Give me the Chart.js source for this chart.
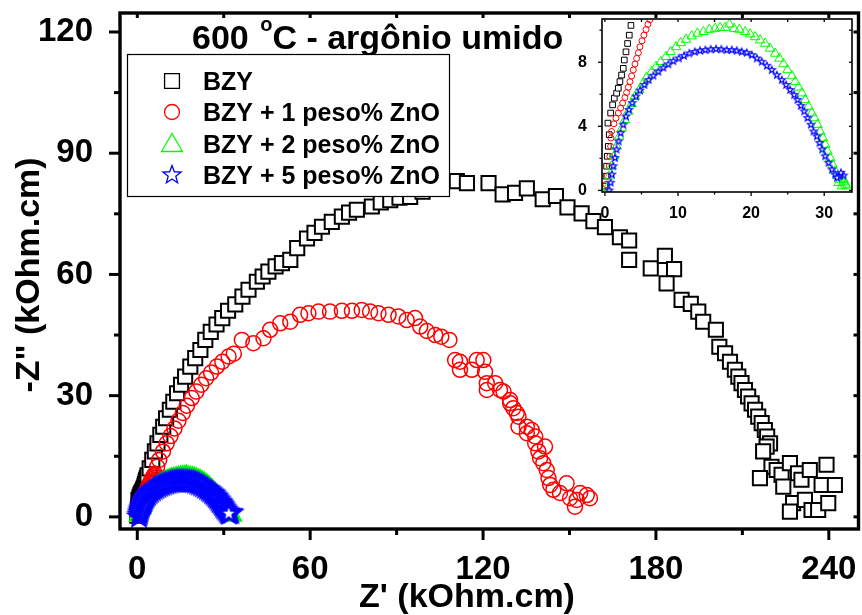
<!DOCTYPE html>
<html lang="pt">
<head>
<meta charset="utf-8">
<title>600 °C - argônio umido</title>
<script src="https://cdn.jsdelivr.net/npm/chart.js@4.4.1/dist/chart.umd.min.js"></script>
<style>
  html, body { margin: 0; padding: 0; background: #fff; }
  #Quadro { position: relative; width: 862px; height: 615px; overflow: hidden; }
  #GraficoPrincipal { position: absolute; left: 0; top: 0; }
  #GraficoDetalhe { position: absolute; left: 570px; top: 10px; }
</style>
</head>
<body>
<div id="Quadro">
  <canvas id="GraficoPrincipal" width="862" height="615"></canvas>
  <canvas id="GraficoDetalhe" width="292" height="210"></canvas>
</div>
<script>
// Series: Z' (kOhm.cm), -Z'' (kOhm.cm)
const Series = ['BZY', 'BZY + 1 peso% ZnO', 'BZY + 2 peso% ZnO', 'BZY + 5 peso% ZnO'];

const PontosBZY = [
  [0,0.27],[0.14,0.89],[0.23,1.51],[0.32,2.13],[0.46,2.75],[0.59,3.48],[0.41,4.2],[0.78,4.83],[1.05,5.34],[1.28,5.76],
  [1.6,6.07],[1.83,6.38],[2.05,6.79],[2.28,7.2],[2.51,7.62],[2.65,8.14],[2.88,8.65],[3.1,9.17],[3.33,9.69],[3.56,10.3],
  [4.3,12.0],[5.2,14.1],[6.1,16.2],[7.0,18.2],[8.0,20.3],[9.0,22.3],[10.0,24.4],[11.3,26.5],[12.5,28.5],[13.8,30.6],
  [15.2,32.7],[16.6,34.7],[18.4,37.2],[20.1,39.3],[21.9,41.3],[23.6,43.8],[25.5,45.8],[27.5,47.6],[29.5,49.2],[31.5,51.0],
  [34.0,52.6],[36.5,54.5],[38.6,56.2],[41.5,58.2],[43.5,59.5],[45.5,60.7],[48.0,62.0],[50.2,62.8],[53.1,63.6],[55.5,66.5],
  [58.9,68.9],[61.5,70.3],[64.1,71.8],[67.5,73.0],[71.0,74.3],[73.5,75.3],[76.2,76.0],[81.4,76.8],[84.5,77.8],[87.8,78.4],
  [91.0,79.0],[94.7,79.2],[99.0,80.5],[104.0,81.8],[110.9,83.1],[114.4,82.6],[121.9,82.6],[126.8,79.8],[131.1,80.2],[135.2,81.3],
  [140.7,78.6],[145.3,79.4],[149.3,76.6],[154.2,75.1],[158.3,73.2],[162.3,71.7],[167.5,69.2],[170.7,68.4],[170.7,63.6],[178.2,61.5],
  [183.1,64.6],[186.3,61.3],[183.7,57.8],[188.9,53.7],[192.1,52.7],[194.7,50.8],[196.4,48.3],[200.8,46.3],[202.0,42.1],[204.0,40.5],
  [205.7,38.4],[207.4,36.4],[208.6,34.7],[209.7,33.1],[210.9,31.4],[212.0,29.8],[213.2,28.1],[214.4,26.5],[215.5,24.8],[216.7,23.2],
  [217.8,21.5],[218.6,19.9],[219.6,18.2],[218.4,17.4],[217.2,16.2],[220.1,12.4],[216.1,9.6],[221.9,11.6],[223.6,10.4],[226.5,13.3],
  [224.2,7.5],[229.3,10.8],[230.5,9.2],[233.4,11.6],[227.6,3.4],[226.5,1.3],[231.7,4.2],[234.0,1.7],[236.3,1.7],[237.5,7.9],
  [239.2,12.9],[239.8,3.4],[242.1,7.9]
];

const PontosZnO1 = [
  [0.14,0.37],[0.32,0.89],[0.59,1.51],[0.68,2.13],[0.78,2.75],[0.82,3.27],[0.91,3.68],[1.23,4.16],[1.51,4.51],[1.83,4.83],
  [2.15,5.14],[2.42,5.45],[2.74,5.8],[2.97,6.11],[3.2,6.44],[3.42,6.79],[3.65,7.14],[3.88,7.52],[4.11,7.89],[4.34,8.24],
  [4.57,8.59],[4.79,8.96],[5.07,9.34],[5.34,9.69],[5.62,10.04],[5.89,10.37],[6.16,10.66],[6.9,12.4],[7.6,14.1],[8.9,16.2],
  [10.2,18.2],[11.5,20.0],[12.9,21.9],[14.3,23.8],[15.8,25.7],[17.2,27.5],[18.9,29.4],[20.5,31.0],[22.2,32.7],[23.9,34.3],
  [25.6,35.7],[27.6,37.2],[29.5,38.4],[31.7,39.7],[33.5,40.4],[36.3,43.8],[40.3,43.0],[43.8,44.2],[46.1,46.3],[49.6,47.9],
  [53.1,48.3],[56.5,50.0],[59.4,50.4],[62.9,50.8],[66.9,50.8],[71.0,51.0],[74.5,51.0],[77.9,51.2],[80.8,50.8],[83.7,50.4],
  [87.2,50.0],[90.6,49.6],[93.5,48.7],[96.4,49.2],[98.2,47.1],[100.5,46.0],[103.4,45.0],[105.5,44.6],[108.3,43.8],[110.3,38.8],
  [112.0,36.4],[112.0,38.4],[116.1,36.4],[117.8,38.8],[120.1,38.8],[120.7,35.9],[121.3,33.1],[121.3,31.4],[124.2,33.1],[125.9,31.4],
  [127.1,31.0],[129.4,28.9],[129.4,28.1],[130.5,26.9],[131.7,25.7],[132.3,24.8],[132.3,22.3],[135.2,22.3],[135.2,20.7],[136.9,21.5],
  [138.1,19.9],[138.1,18.2],[139.2,16.2],[141.5,17.4],[139.8,14.5],[140.9,13.3],[142.1,11.6],[142.7,9.6],[143.3,7.9],[144.4,6.7],
  [146.7,5.9],[149.0,8.3],[150.2,4.6],[151.9,2.5],[152.5,4.2],[153.7,5.9],[156.0,5.4],[157.1,4.6]
];

const PontosZnO2 = [
  [0.32,0.17],[0.59,0.89],[0.91,1.51],[1.23,2.13],[1.6,2.75],[1.96,3.37],[2.33,3.89],[2.74,4.41],[3.2,4.93],[3.65,5.4],
  [4.11,5.86],[4.7,6.27],[5.25,6.69],[5.71,7.06],[6.39,7.41],[6.99,7.72],[7.63,8.03],[8.36,8.34],[9.0,8.65],[9.73,8.96],
  [10.37,9.21],[11.1,9.42],[11.87,9.63],[12.65,9.8],[13.47,9.9],[14.29,10.04],[15.07,10.1],[15.75,10.16],[16.44,10.16],[17.03,10.37],
  [17.67,10.1],[18.4,10.04],[19.18,9.9],[19.86,9.75],[20.55,9.58],[21.23,9.38],[21.92,9.17],[22.6,8.86],[23.29,8.55],[23.88,8.24],
  [24.43,7.89],[24.98,7.52],[25.57,7.14],[26.03,6.79],[26.48,6.44],[26.94,6.07],[27.4,5.65],[27.85,5.24],[28.31,4.83],[28.68,4.52],
  [29.09,4.1],[29.45,3.68],[29.82,3.27],[30.14,2.86],[30.45,2.44],[30.82,2.03],[31.14,1.61],[31.51,1.2],[31.83,0.89],[32.19,0.68],
  [32.65,0.52],[32.88,0.37],[32.42,0.27],[31.96,0.48],[33.1,0.27],[32.65,0.68]
];

const PontosZnO5 = [
  [0.59,0.0],[0.78,0.48],[0.96,0.99],[1.14,1.51],[1.37,2.03],[1.6,2.55],[1.87,3.06],[2.15,3.58],[2.51,4.1],[2.88,4.61],
  [3.29,5.03],[3.74,5.45],[4.25,5.86],[4.79,6.23],[5.39,6.58],[5.98,6.89],[6.62,7.16],[7.31,7.41],[7.99,7.66],[8.68,7.87],
  [9.36,8.07],[10.1,8.24],[10.82,8.4],[11.55,8.55],[12.28,8.65],[13.01,8.72],[13.74,8.76],[14.47,8.8],[15.21,8.82],[15.93,8.8],
  [16.67,8.76],[17.35,8.76],[18.04,8.72],[18.72,8.65],[19.41,8.59],[20.09,8.45],[20.78,8.24],[21.46,8.03],[22.15,7.78],[22.83,7.52],
  [23.52,7.2],[24.2,6.89],[24.79,6.58],[25.34,6.27],[25.89,5.96],[26.35,5.65],[26.8,5.28],[27.26,4.93],[27.72,4.52],[28.17,4.1],
  [28.54,3.68],[29.0,3.37],[29.36,2.96],[29.73,2.55],[30.14,2.13],[30.59,1.72],[31.05,1.3],[31.51,0.99],[32.1,0.89],[32.65,0.93],
  [32.28,1.1],[31.74,0.79]
];

// Marcas dos eixos
const TicksX = [0, 60, 120, 180, 240];
const TicksXMenor = [30, 90, 150, 210];
const TicksY = [0, 30, 60, 90, 120];
const TicksYMenor = [15, 45, 75, 105];
const TicksXDetalhe = [0, 10, 20, 30];
const TicksXDetalheMenor = [5, 15, 25];
const TicksYDetalhe = [0, 4, 8];
const TicksYDetalheMenor = [2, 6, 10];

const Fonte = '"Liberation Sans", Arial, Helvetica, sans-serif';
const ParaXY = Pts => Pts.map(([X, Y]) => ({ x: X, y: Y }));

function Estrela(Raio, Borda) {
  const Tam = Math.ceil(Raio * 2 + Borda * 2 + 2);
  const C = document.createElement('canvas');
  C.width = Tam; C.height = Tam;
  const Ctx = C.getContext('2d');
  const Cx = Tam / 2, Cy = Tam / 2, RInt = Raio * 0.42;
  Ctx.beginPath();
  for (let I = 0; I < 10; I++) {
    const R = I % 2 ? RInt : Raio;
    const A = -Math.PI / 2 + I * Math.PI / 5;
    Ctx.lineTo(Cx + R * Math.cos(A), Cy + R * Math.sin(A));
  }
  Ctx.closePath();
  Ctx.fillStyle = '#fff';
  Ctx.fill();
  Ctx.lineWidth = Borda;
  Ctx.strokeStyle = '#0000ff';
  Ctx.stroke();
  return C;
}

// Moldura com marcas para fora (baixo/esquerda) e para dentro (cima/direita)
function PluginMoldura(Id, Cfg) {
  return {
    id: Id,
    afterDatasetsDraw(Grafico) {
      const { ctx, chartArea: A, scales } = Grafico;
      const Ex = scales.x, Ey = scales.y;
      const Linha = (X1, Y1, X2, Y2) => { ctx.beginPath(); ctx.moveTo(X1, Y1); ctx.lineTo(X2, Y2); ctx.stroke(); };
      ctx.save();
      ctx.strokeStyle = '#000';
      ctx.lineWidth = Cfg.LarguraTick;
      const MarcasX = (Lista, Tam) => Lista.forEach(V => {
        const P = Ex.getPixelForValue(V);
        Linha(P, A.bottom, P, A.bottom + Tam);
        Linha(P, A.top, P, A.top + Cfg.TickDentro);
      });
      const MarcasY = (Lista, Tam) => Lista.forEach(V => {
        const P = Ey.getPixelForValue(V);
        Linha(A.left, P, A.left - Tam, P);
        Linha(A.right, P, A.right - Cfg.TickDentro, P);
      });
      MarcasX(Cfg.MaioresX, Cfg.TickMaior);
      MarcasX(Cfg.MenoresX, Cfg.TickMenor);
      MarcasY(Cfg.MaioresY, Cfg.TickMaior);
      MarcasY(Cfg.MenoresY, Cfg.TickMenor);
      ctx.lineWidth = Cfg.LarguraBorda;
      ctx.strokeRect(A.left, A.top, A.right - A.left, A.bottom - A.top);
      ctx.restore();
    }
  };
}

const Marcadores = [
  { pointStyle: 'rect',     radius: 10,  borderWidth: 2,   cor: '#000000', fundo: '#ffffff' },
  { pointStyle: 'circle',   radius: 7.5, borderWidth: 1.5, cor: '#ff0000', fundo: 'rgba(0,0,0,0)' },
  { pointStyle: 'triangle', radius: 10,  borderWidth: 1.6, cor: '#00ff00', fundo: 'rgba(0,0,0,0)' },
  { pointStyle: Estrela(10, 2.8), radius: 10, borderWidth: 1, cor: '#0000ff', fundo: '#ffffff' }
];
const MarcadoresDetalhe = [
  { pointStyle: 'rect',     radius: 4,   borderWidth: 1, cor: '#000000', fundo: '#ffffff' },
  { pointStyle: 'circle',   radius: 3,   borderWidth: 1, cor: '#ff0000', fundo: 'rgba(0,0,0,0)' },
  { pointStyle: 'triangle', radius: 5.5, borderWidth: 1, cor: '#00ff00', fundo: 'rgba(0,0,0,0)' },
  { pointStyle: Estrela(3.6, 1.2), radius: 4, borderWidth: 1, cor: '#0000ff', fundo: '#ffffff' }
];

function MontarDatasets(Estilos) {
  return [PontosBZY, PontosZnO1, PontosZnO2, PontosZnO5].map((Pts, I) => ({
    label: Series[I],
    data: ParaXY(Pts),
    pointStyle: Estilos[I].pointStyle,
    pointRadius: Estilos[I].radius,
    pointBorderWidth: Estilos[I].borderWidth,
    pointBorderColor: Estilos[I].cor,
    pointBackgroundColor: Estilos[I].fundo,
    showLine: false,
    order: 4 - I
  }));
}

// Titulo, legenda e nomes dos eixos desenhados por cima do grafico
const PluginTextos = {
  id: 'Textos',
  afterDraw(Grafico) {
    const { ctx } = Grafico;
    ctx.save();
    ctx.fillStyle = '#000';
    ctx.textAlign = 'left';
    ctx.textBaseline = 'alphabetic';

    let X = 192;
    ctx.font = `bold 34px ${Fonte}`;
    ctx.fillText('600 ', X, 49);
    X += ctx.measureText('600 ').width + 2;
    ctx.font = `bold 20px ${Fonte}`;
    ctx.fillText('o', X, 31);
    X += ctx.measureText('o').width;
    ctx.font = `bold 34px ${Fonte}`;
    ctx.fillText('C - argônio umido', X, 49);

    // Legenda
    ctx.fillStyle = '#fff';
    ctx.fillRect(127, 54, 323, 143);
    ctx.strokeStyle = '#000';
    ctx.lineWidth = 1.2;
    ctx.strokeRect(127.5, 54.5, 322, 142);
    const Linhas = [81, 112, 143.5, 175];
    const Legenda = [
      { pointStyle: 'rect', radius: 10.5, borderWidth: 1.3, cor: '#000', fundo: '#fff' },
      { pointStyle: 'circle', radius: 7.5, borderWidth: 1.3, cor: '#ff0000', fundo: '#fff' },
      { pointStyle: 'triangle', radius: 12, borderWidth: 1.3, cor: '#00ff00', fundo: '#fff' },
      { pointStyle: Estrela(9.5, 1.3), radius: 10, borderWidth: 0, cor: '#0000ff', fundo: '#fff' }
    ];
    Legenda.forEach((M, I) => {
      ctx.strokeStyle = M.cor;
      ctx.fillStyle = M.fundo;
      ctx.lineWidth = M.borderWidth;
      const Dy = M.pointStyle === 'triangle' ? 2 : 0;
      Chart.helpers.drawPoint(ctx, { pointStyle: M.pointStyle, radius: M.radius, rotation: 0, borderWidth: M.borderWidth }, 172, Linhas[I] + Dy);
      ctx.fillStyle = '#000';
      ctx.font = `bold 25px ${Fonte}`;
      ctx.fillText(Series[I], 203, Linhas[I] + 9);
    });

    // Nomes dos eixos
    ctx.font = `bold 34px ${Fonte}`;
    ctx.textAlign = 'center';
    ctx.fillText("Z' (kOhm.cm)", 467, 607);
    ctx.translate(39, 275);
    ctx.rotate(-Math.PI / 2);
    ctx.fillText('-Z" (kOhm.cm)', 0, 0);
    ctx.restore();
  }
};

function EixoLinear(Min, Max, Marcas, Tamanho, Preenchimento, Ajuste) {
  return {
    type: 'linear',
    min: Min,
    max: Max,
    grid: { display: false },
    border: { display: false },
    afterBuildTicks: E => { E.ticks = Marcas.map(V => ({ value: V })); },
    afterFit: E => {
      Ajuste(E);
      // sem folga extra para os rotulos das pontas
      E.paddingTop = 0; E.paddingBottom = 0; E.paddingLeft = 0; E.paddingRight = 0;
    },
    ticks: {
      color: '#000',
      padding: Preenchimento,
      maxRotation: 0,
      autoSkip: false,
      font: { family: Fonte, size: Tamanho, weight: 'bold' }
    }
  };
}

new Chart(document.getElementById('GraficoPrincipal'), {
  type: 'scatter',
  data: { datasets: MontarDatasets(Marcadores) },
  options: {
    responsive: false,
    animation: false,
    events: [],
    layout: { autoPadding: false, padding: { top: 13, right: 3.5, left: 0, bottom: 0 } },
    plugins: { legend: { display: false }, tooltip: { enabled: false } },
    scales: {
      x: EixoLinear(-6, 250.3, TicksX, 33, 13, E => { E.height = 86; }),
      y: EixoLinear(-3, 124.7, TicksY, 33, 19, E => { E.width = 120; })
    }
  },
  plugins: [
    PluginMoldura('MolduraPrincipal', {
      MaioresX: TicksX, MenoresX: TicksXMenor, MaioresY: TicksY, MenoresY: TicksYMenor,
      TickMaior: 11, TickMenor: 6, TickDentro: 5, LarguraTick: 3, LarguraBorda: 3.4
    }),
    PluginTextos
  ]
});

new Chart(document.getElementById('GraficoDetalhe'), {
  type: 'scatter',
  data: { datasets: MontarDatasets(MarcadoresDetalhe) },
  options: {
    responsive: false,
    animation: false,
    events: [],
    layout: { autoPadding: false, padding: { top: 9, right: 10, left: 0, bottom: 0 } },
    plugins: { legend: { display: false }, tooltip: { enabled: false } },
    scales: {
      x: EixoLinear(-0.4, 33.8, TicksXDetalhe, 16, 4, E => { E.height = 28; }),
      y: EixoLinear(-0.1, 10.7, TicksYDetalhe, 16, 7, E => { E.width = 32; })
    }
  },
  plugins: [
    PluginMoldura('MolduraDetalhe', {
      MaioresX: TicksXDetalhe, MenoresX: TicksXDetalheMenor, MaioresY: TicksYDetalhe, MenoresY: TicksYDetalheMenor,
      TickMaior: 4, TickMenor: 2.5, TickDentro: 3, LarguraTick: 1.3, LarguraBorda: 1.6
    })
  ]
});
</script>
</body>
</html>
